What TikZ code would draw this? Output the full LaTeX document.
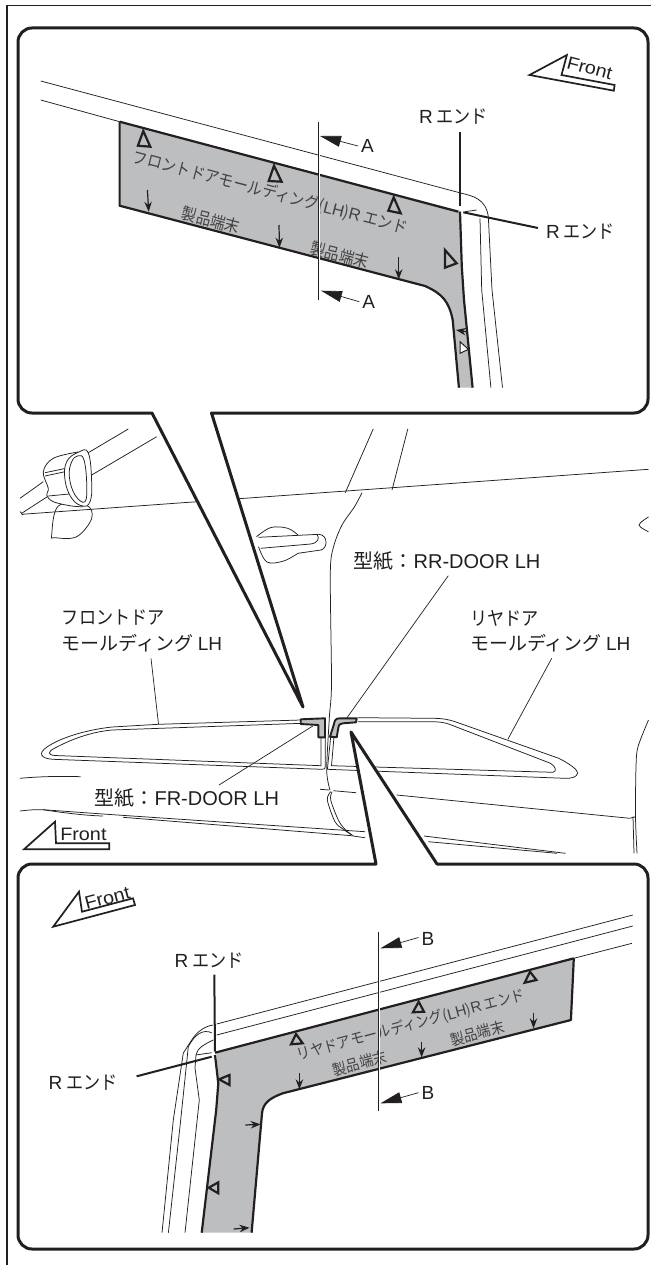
\documentclass[tikz,border=0pt]{standalone}
\usepackage{fontspec}
\setmainfont{Noto Sans CJK JP}
\newfontfamily\narrowfont[FakeStretch=0.9]{Noto Sans CJK JP}
\newfontfamily\latinfont{Liberation Sans}
\newfontfamily\frontfont[FakeStretch=1.1]{Liberation Sans}
\usetikzlibrary{arrows.meta,calc}
\definecolor{bandgray}{HTML}{BCBEC0}
\definecolor{inkblack}{HTML}{231F20}
\newcommand{\labelsize}{\fontsize{19}{25}\selectfont}
\tikzset{
  panelbox/.style={draw=inkblack,line width=3pt,fill=white,line join=round},
  carline/.style={draw=inkblack,line width=0.75pt},
  leaderline/.style={draw=inkblack,line width=0.7pt},
  bandshape/.style={draw=inkblack,line width=2.2pt,line join=round},
  rendline/.style={draw=inkblack,line width=2pt},
  hollowtri/.style={draw=inkblack,line width=2.2pt,line join=miter},
  downarrow/.style={draw=inkblack,line width=1.2pt,-{Stealth[length=10pt,width=7.5pt]}},
  sectline/.style={draw=inkblack,line width=0.7pt},
  sectarrow/.style={draw=inkblack,line width=0.7pt,-{Triangle[length=21pt,width=11pt]}},
  frontbox/.style={draw=inkblack,line width=1.7pt,line join=miter},
  tmplshape/.style={draw=inkblack,fill=bandgray,line width=1.9pt,line join=round},
  lbl/.style={font=\narrowfont\labelsize,text=inkblack,inner sep=0pt},
  bandlbl/.style={font=\narrowfont\fontsize{16.5}{18}\selectfont,text=inkblack!85,inner sep=0pt},
  bandlbllow/.style={font=\narrowfont\fontsize{15.3}{18}\selectfont,text=inkblack!85,inner sep=0pt},
  frontlbl/.style={font=\frontfont\fontsize{18}{20}\selectfont,text=inkblack,inner sep=0pt}
}
\begin{document}
\begin{tikzpicture}[x=1pt,y=-1pt]
\useasboundingbox (0,0) rectangle (651,1265);
\fill[white] (0,0) rectangle (651,1265);
% outer frame
\draw[inkblack,line width=1.2pt] (7,1265) -- (7,5.5) -- (651,5.5);

% car body
\draw[carline] (128.3,429) -- (87.3,453.3);
\draw[carline] (156.7,436.7) -- (91.7,475);
\draw[carline] (20,498.3) -- (43.3,481.7);
\draw[carline] (21.7,513.3) -- (47.3,496.7);
\draw[carline] (20,511.5) -- (23,515);
\draw[carline] (373.2,429) -- (345.3,492.7);
\draw[carline] (407.8,429) -- (392,490);
% door gap
\draw[carline] plot[smooth,tension=0.5] coordinates {(362,492.7) (354.5,506.7) (342,525) (333.6,546.7) (330.3,573.3) (331.5,683) (329.4,716.7) (326.7,770) (330,790)};
\draw[carline] plot[smooth,tension=0.5] coordinates {(330.7,791.7) (327.3,800) (335,821.7) (343.3,829.3) (351.7,835)};
\draw[carline] plot[smooth,tension=0.5] coordinates {(332,791.7) (330.7,800) (338.3,820) (345,829.3) (353.3,836)};
% mirror
\filldraw[carline,fill=white] plot[smooth cycle,tension=0.6] coordinates {(58.3,506) (51.7,535) (55,537.7) (76.7,536.7) (91.7,518.3) (86,505)};
\draw[carline] (21.7,514.3) -- (648.5,469.3);
\filldraw[carline,fill=white] plot[smooth,tension=0.6] coordinates {(78,452) (53.3,458.3) (43.3,471.7) (48.3,488.3) (46.7,495) (53.3,501.7) (71.7,506) (83.3,506.7)};
\draw[carline] (45,472.7) -- (66,468.3);
\draw[carline] (45,476) -- (65,471.7);
\draw[carline] (48.3,496) -- (69.3,494);
\filldraw[carline,fill=white] plot[smooth cycle,tension=0.7] coordinates {(78.3,452.3) (88.3,453) (91.7,483) (90,501.7) (82.7,506) (71.7,498.3) (65,480) (66.7,461.7)};
\draw[carline] plot[smooth cycle,tension=0.7] coordinates {(78.3,455.7) (84,460) (86.7,483.3) (85,501.7) (75,495) (69.3,476.7) (71.7,461.7)};
% door handle
\draw[carline] plot[smooth,tension=0.6] coordinates {(256.5,536.7) (271,527.5) (287.7,528.3) (298,535)};
\draw[carline] (258.5,537.3) -- (319,534.3) .. controls (328,535) and (328,548) .. (321,550) -- (298,553.3);
\draw[carline] (260.6,548.3) -- (310.7,544) .. controls (318,543) and (320,538) .. (317,534.5);
\draw[carline] plot[smooth,tension=0.6] coordinates {(258.5,546.7) (267,562) (283.6,561) (298,553.3)};
\draw[carline] plot[smooth,tension=0.6] coordinates {(648.5,517) (639,525) (648.5,531.7)};
% lower body
\draw[carline] (20,778.3) .. controls (40,776.5) and (60,776) .. (80.7,776.7);
\draw[carline] (20,811) .. controls (30,809.8) and (36,809.5) .. (43,809.7) -- (110,814.5) -- (365,831.7);
\draw[carline] (43,809.7) .. controls (65,813) and (85,815.5) .. (103,816) ;
\draw[carline] (123,817.3) -- (351.7,835.7);
\draw[carline] (353,836) -- (365,837.7);
\draw[carline] (320,789.3) -- (329.3,790);
\draw[carline] (333.3,790.7) -- (356,792.7);
\draw[carline] (396.7,795) -- (629.7,818.3);
\draw[carline] (424,836) -- (565.5,853.3);
\draw[carline] (428.3,841.7) -- (557,853.3);
\draw[carline] plot[smooth,tension=0.5] coordinates {(648.5,720) (638,746.7) (636,766.7) (635.5,816.7) (637,853.3)};
\draw[carline] (633,816.7) -- (634,853.3);
\draw[carline] (629.7,818.3) -- (635.5,816.7);

% front door moulding
\draw[carline] (301,720) -- (158.3,724.3) -- (112,727) .. controls (85,730) and (60,738) .. (47,747) .. controls (38,753) and (40,758.5) .. (53,759.3) -- (322,769.3) .. controls (324.5,769.5) and (325.3,768.5) .. (325.3,766.5) -- (325.3,736.7);
\draw[carline] (302.3,723.3) -- (112,730) .. controls (90,732) and (70,740) .. (55,748) .. controls (47,752) and (48,755) .. (55,755.5) -- (321,765.7) -- (321,736.7);
% rear door moulding
\draw[carline] (357.8,717.7) -- (433.7,718.3) .. controls (443,718.5) and (449,719.5) .. (456,722) -- (558.8,758.3) .. controls (570,764) and (578,770) .. (577.6,773) .. controls (577,777) and (572,778.5) .. (565,778.3) -- (327.4,769.3) -- (330.7,736.7);
\draw[carline] (357.8,721.7) -- (433.7,721.7) .. controls (440,722) and (445,722.5) .. (450,724.5) -- (550.5,763.3) .. controls (556,767) and (557,771) .. (553,772.3) -- (331.5,765.7) -- (334,736.7);
% templates on the doors
\draw[tmplshape] (300.7,719.3) -- (325,718.3) -- (325,737.3) -- (318.3,737.3) -- (318.3,725) -- (300.7,724) -- cycle;
\draw[tmplshape] (356.7,718.3) -- (340,718.3) .. controls (336,718.3) and (334.5,720) .. (334,724) -- (330,736.7) -- (336.7,737.3) -- (338.3,728) .. controls (338.7,724.5) and (340,723.5) .. (343,723.3) -- (356,722.3) -- cycle;

% labels on the car
\node[lbl,anchor=west] (fdlabela) at (61.7,618) {フロントドア};
\node[lbl,anchor=west,font=\labelsize] (fdlabelb) at (61.7,643.3) {モールディング {\latinfont LH}};
\node[lbl,anchor=west] (rdlabela) at (470,618) {リヤドア};
\node[lbl,anchor=west,font=\labelsize] (rdlabelb) at (470,643.3) {モールディング {\latinfont LH}};
\node[lbl,font=\fontsize{20}{25}\selectfont] (rrlabel) at (447,560.7) {型紙：{\latinfont RR-DOOR LH}};
\node[lbl,font=\fontsize{20}{25}\selectfont] (frlabel) at (186.8,798.3) {型紙：{\latinfont FR-DOOR LH}};
\coordinate (fdend) at (158.5,724);
\coordinate (rdend) at (508,739);
\coordinate (rrend) at (347,717.7);
\coordinate (frend) at (312.8,726);
\coordinate (fdstart) at (151,658.3);
\coordinate (rdstart) at (551.7,658.3);
\coordinate (rrstart) at (448.3,575.7);
\coordinate (frstart) at (219,785);
\draw[leaderline] (fdstart) -- (fdend);
\draw[leaderline] (rdstart) -- (rdend);
\draw[leaderline] (rrstart) -- (rrend);
\draw[leaderline] (frstart) -- (frend);
% front mark on the car
\draw[frontbox] (24,849.3) -- (55,821.7) -- (56,843.3) -- (109.3,843.3) -- (109.3,849.3) -- cycle;
\node[frontlbl] (frontmid) at (83.4,834) {Front};

% upper panel
\draw[panelbox] (32,28) -- (634,28) .. controls (641.7,28) and (648,34.3) .. (648,42) -- (648,399) .. controls (648,406.7) and (641.7,413) .. (634,413) -- (211.5,413) -- (303,707) -- (152,413) -- (32,413) .. controls (24.3,413) and (18,406.7) .. (18,399) -- (18,42) .. controls (18,34.3) and (24.3,28) .. (32,28) -- cycle;
\draw[frontbox] (529.5,75) -- (566.9,55) -- (561.5,75) -- (614.6,85) -- (613.8,90.7) -- cycle;
\node[frontlbl,rotate=-14.7] (frontup) at (589.7,68) {Front};
% upper panel, car lines
\draw[carline] (40.7,81) -- (461.7,193.3) .. controls (473,196) and (486,199) .. (488.3,216.7) -- (492,290) -- (502.5,387.7);
\draw[carline] (40.7,100) -- (119.6,121.7);
\draw[carline] (480,218.3) -- (481.7,290) -- (490.9,387.7);
\draw[carline] (465,211.7) -- (476.7,210);
% upper panel, band
\fill[bandgray] (119.6,121.7) -- (459.7,210.7) -- (461.8,266.7) -- (464,300) -- (472.6,387.7) -- (458.9,387.7) -- (452.7,320) .. controls (449,302) and (443,294) .. (425,286) -- (119.6,205.7) -- cycle;
\draw[bandshape] (119.6,121.7) -- (458.3,211.7);
\draw[bandshape] (460,211.7) -- (461.8,266.7) -- (464,300) -- (472.6,387.7);
\draw[bandshape] (119.6,121.7) -- (119.6,205.7) -- (425,286) .. controls (443,294) and (449,302) .. (452.7,320) -- (458.9,387.7);
\node[bandlbl,rotate=-14.7] (bandup) at (270,192.7) {フロントドアモールディング({\latinfont LH}){\latinfont R} エンド};
\node[bandlbl,rotate=-14.7] (endupa) at (211,220) {製品端末};
\node[bandlbl,rotate=-14.7] (endupb) at (339.7,255) {製品端末};
% hollow marks
\draw[hollowtri] (143.3,131) -- (137.9,145.7) -- (150.3,146.7) -- cycle;
\draw[hollowtri] (274,165.7) -- (268.7,181) -- (281.6,181.7) -- cycle;
\draw[hollowtri] (393.7,197.3) -- (388.3,210.7) -- (400.7,213.3) -- cycle;
\draw[hollowtri] (456.7,263.3) -- (445,250) -- (445,267.7) -- cycle;
\draw[hollowtri,line width=1pt,fill=white] (468.4,349.3) -- (460,341.7) -- (460,353.3) -- cycle;
% edge arrows
\draw[downarrow] (147.4,190) -- (148.7,211.7);
\draw[downarrow] (279,225) -- (279.5,247.7);
\draw[downarrow] (398.7,256.7) -- (398.7,279.3);
\draw[downarrow] (466,331.7) -- (456,330);
% section A
\draw[white,line width=2pt] (318.5,121.7) -- (318.5,300);
\draw[sectline] (318.5,121.7) -- (318.5,300);
\node[lbl,font=\latinfont\labelsize] (secta) at (367.5,146) {A};
\node[lbl,font=\latinfont\labelsize] (sectb) at (368.8,301.7) {A};
\coordinate (secttipa) at (320,136);
\coordinate (secttipb) at (321,290.7);
\draw[sectarrow] (secta.west) ++(-3,0) -- (secttipa);
\draw[sectarrow] (sectb.west) ++(-3,0) -- (secttipb);
% R end marks
\node[lbl] (rendupa) at (453.5,117) {{\latinfont R} エンド};
\node[lbl] (rendupb) at (580.6,232) {{\latinfont R} エンド};
\coordinate (rendtipa) at (460,206);
\coordinate (rendtipb) at (463.3,212.3);
\draw[rendline] (rendupa.south) ++(6.5,6.7) -- (rendtipa);
\draw[rendline] (rendupb.west) ++(-8,-4) -- (rendtipb);

% lower panel
\draw[panelbox] (32,864) -- (376,864) -- (351,732) -- (437,864) -- (634,864) .. controls (641.7,864) and (648,870.3) .. (648,878) -- (648,1235) .. controls (648,1242.7) and (641.7,1249) .. (634,1249) -- (32,1249) .. controls (24.3,1249) and (18,1242.7) .. (18,1235) -- (18,878) .. controls (18,870.3) and (24.3,864) .. (32,864) -- cycle;
\draw[frontbox] (53.2,926.7) -- (79,891.7) -- (82,911.7) -- (133,898.3) -- (135,905) -- cycle;
\node[frontlbl,rotate=14.7] (frontlow) at (107.3,898) {Front};
% lower panel, car lines
\draw[carline] (632.8,915) -- (216.7,1024);
\draw[carline] (213.3,1025) .. controls (204,1026) and (196,1033) .. (191.7,1040) -- (183.3,1053) -- (173.3,1120) -- (162,1232.7);
\draw[carline] (632.8,926) -- (216.7,1035);
\draw[carline] (211.7,1032.7) .. controls (203,1029) and (195,1034) .. (188.3,1046.7) -- (180.7,1120) -- (168.4,1232.7);
\draw[carline] (632,943.3) -- (573.8,958.3);
\draw[carline] (213.3,1040) .. controls (205,1044) and (197,1048) .. (196,1055) -- (195,1068) -- (199.3,1100) -- (185,1232.7);
\draw[carline] (196,1055) -- (211.7,1052.7);
% lower panel, band
\fill[bandgray] (573.8,958.3) -- (216.2,1051.7) -- (218.3,1083.3) -- (216.2,1110) -- (201.7,1232.7) -- (251.6,1232.7) -- (262,1113.3) .. controls (263,1103) and (270,1098) .. (282.7,1093.3) -- (570.9,1020) -- cycle;
\draw[bandshape] (573.8,958.3) -- (215,1052.7);
\draw[bandshape] (215,1055) -- (218.3,1083.3) -- (216.2,1110) -- (201.7,1232.7);
\draw[bandshape] (573.8,958.3) -- (570.9,1020) -- (282.7,1093.3) .. controls (270,1098) and (263,1103) .. (262,1113.3) -- (251.6,1232.7);
\node[bandlbllow,rotate=15] (bandlow) at (411,1025) {リヤドアモールディング({\latinfont LH}){\latinfont R} エンド};
\node[bandlbllow,rotate=15] (endlowa) at (359.7,1063.3) {製品端末};
\node[bandlbllow,rotate=15] (endlowb) at (477.3,1033.3) {製品端末};
% hollow marks
\draw[hollowtri] (296,1034) -- (291,1044.3) -- (302.7,1043.3) -- cycle;
\draw[hollowtri] (418.7,1001.7) -- (412.9,1012.3) -- (424,1011.7) -- cycle;
\draw[hollowtri] (530,971.7) -- (524.7,982.7) -- (536.4,980) -- cycle;
\draw[hollowtri] (219,1079.3) -- (229.5,1075) -- (229.5,1085) -- cycle;
\draw[hollowtri] (208.7,1187.7) -- (218.3,1182.3) -- (218.3,1193.3) -- cycle;
% edge arrows
\draw[downarrow] (299.4,1073.3) -- (299.4,1089.3);
\draw[downarrow] (421.6,1041.7) -- (421.6,1057.3);
\draw[downarrow] (533.5,1012.7) -- (533.5,1028.3);
\draw[downarrow] (245.3,1125) -- (260.7,1124.3);
\draw[downarrow] (233.7,1229) -- (249.5,1227.7);
% section B
\draw[white,line width=2pt] (378.8,931.7) -- (378.8,1110.7);
\draw[sectline] (378.8,931.7) -- (378.8,1110.7);
\node[lbl,font=\latinfont\labelsize] (sectc) at (428,939) {B};
\node[lbl,font=\latinfont\labelsize] (sectd) at (428,1092.7) {B};
\coordinate (secttipc) at (380.5,948.3);
\coordinate (secttipd) at (380.5,1103.3);
\draw[sectarrow] (sectc.west) ++(-3,-1.5) -- (secttipc);
\draw[sectarrow] (sectd.west) ++(-3,0) -- (secttipd);
% R end marks
\node[lbl] (rendlowa) at (209,960.7) {{\latinfont R} エンド};
\node[lbl] (rendlowb) at (83,1082.3) {{\latinfont R} エンド};
\coordinate (rendtipc) at (215,1051.7);
\coordinate (rendtipd) at (211.7,1056.7);
\draw[rendline] (rendlowa.south) ++(5.3,6) -- (rendtipc);
\draw[rendline] (rendlowb.east) ++(19,-6) -- (rendtipd);
\end{tikzpicture}
\end{document}
